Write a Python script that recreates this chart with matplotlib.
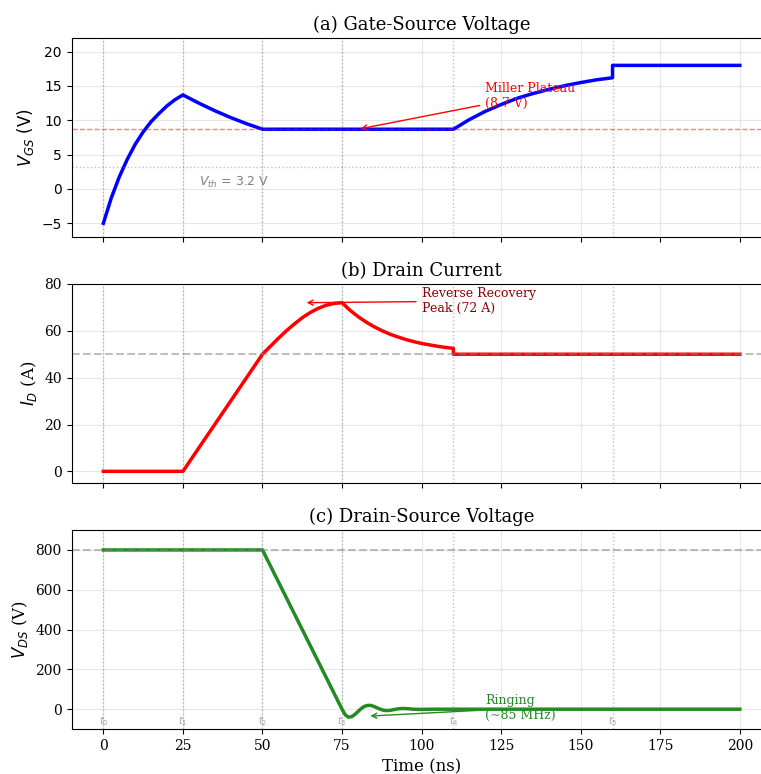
import matplotlib
matplotlib.use("Agg")
import matplotlib.pyplot as plt

plt.rcParams["font.family"] = "serif"

# ---- data ----
t_vgs = [0, 2.5, 5, 7.5, 10, 12.5, 15, 17.5, 20, 22.5, 25,
         30, 35, 40, 45, 50, 110,
         115, 120, 125, 130, 135, 140, 145, 150, 155, 160, 160, 200]
vgs = [-5, -1.3, 1.75, 4.3, 6.5, 8.3, 9.8, 11.0, 12.1, 13.0, 13.7,
       12.5, 11.4, 10.4, 9.5, 8.7, 8.7,
       10.1, 11.3, 12.3, 13.2, 13.9, 14.5, 15.05, 15.5, 15.9, 16.2, 18, 18]

t_id = [0, 25, 50, 52.5, 55, 57.5, 60, 62.5, 65, 67.5, 70, 72.5, 75,
        77.5, 80, 82.5, 85, 87.5, 90, 92.5, 95, 97.5, 100, 102.5, 105, 107.5, 110, 110, 200]
i_d = [0, 0, 50, 53.4, 56.8, 60.0, 62.9, 65.6, 67.8, 69.6, 70.9, 71.7, 72,
       68.8, 66.1, 63.8, 61.8, 60.1, 58.6, 57.4, 56.3, 55.4, 54.6, 54.0, 53.4, 52.9, 52.5, 50, 50]

t_vds = [0, 50, 75, 76, 77, 78, 79, 80, 81, 82, 83, 84, 85, 86, 87, 88, 89, 90,
         91, 92, 93, 94, 95, 96, 97, 98, 100, 103, 110, 200]
vds = [800, 800, 0, -28, -40, -38, -27, -12, 3, 14, 19, 19, 14, 7, 0, -5, -7, -6,
       -3, 0, 2.5, 3.5, 3, 2, 0.5, -0.5, -1, 0, 0, 0]

t_events = [0, 25, 50, 75, 110, 160]
event_labels = ["$t_0$", "$t_1$", "$t_2$", "$t_3$", "$t_4$", "$t_5$"]
v_miller = 8.7
v_th = 3.2
i_load = 50
v_bus = 800

fig, (ax1, ax2, ax3) = plt.subplots(3, 1, figsize=(7.61, 7.74), dpi=100, sharex=True)
fig.subplots_adjust(left=0.094, right=1.014, top=0.951, bottom=0.058, hspace=0.236)

for ax in (ax1, ax2, ax3):
    ax.grid(True, alpha=0.3)
    for te in t_events:
        ax.axvline(te, color="gray", ls=":", lw=1, alpha=0.5)

# (a) gate-source voltage
ax1.plot(t_vgs, vgs, color="blue", lw=2.5)
ax1.axhline(v_miller, color="red", ls="--", lw=1, alpha=0.5)
ax1.axhline(v_th, color="gray", ls=":", lw=1, alpha=0.5)
ax1.text(30, 0.5, "$V_{th}$ = 3.2 V", color="gray", fontsize=9, family="DejaVu Sans")
ax1.annotate("Miller Plateau\n(8.7 V)", xy=(80, v_miller), xytext=(120, 12), color="red", fontsize=9,
             arrowprops=dict(arrowstyle="->", color="red", lw=1))
ax1.set_ylim(-7, 22)
ax1.set_ylabel("$V_{GS}$ (V)", fontsize=12, family="DejaVu Sans")
for lb in ax1.get_yticklabels():
    lb.set_family("DejaVu Sans")
ax1.set_title("(a) Gate-Source Voltage", fontsize=13)

# (b) drain current
ax2.plot(t_id, i_d, color="red", lw=2.5)
ax2.axhline(i_load, color="gray", ls="--", lw=1.5, alpha=0.5)
ax2.annotate("Reverse Recovery\nPeak (72 A)", xy=(63, 72), xytext=(100, 68), color="darkred", fontsize=9,
             arrowprops=dict(arrowstyle="->", color="red", lw=1))
ax2.set_ylim(-5, 80)
ax2.set_ylabel("$I_D$ (A)", fontsize=12)
ax2.set_title("(b) Drain Current", fontsize=13)

# (c) drain-source voltage
ax3.plot(t_vds, vds, color="forestgreen", lw=2.5)
ax3.axhline(v_bus, color="gray", ls="--", lw=1.5, alpha=0.5)
ax3.annotate("Ringing\n(~85 MHz)", xy=(83, -35), xytext=(120, -50), color="forestgreen", fontsize=9,
             arrowprops=dict(arrowstyle="->", color="forestgreen", lw=1))
for te, lab in zip(t_events, event_labels):
    ax3.text(te, -75, lab, ha="center", fontsize=7, color="gray", alpha=0.7)
ax3.set_ylim(-100, 900)
ax3.set_ylabel("$V_{DS}$ (V)", fontsize=12)
ax3.set_xlabel("Time (ns)", fontsize=12)
ax3.set_title("(c) Drain-Source Voltage", fontsize=13)
ax3.set_xticks(range(0, 201, 25))

fig.savefig("out.png", dpi=100)
